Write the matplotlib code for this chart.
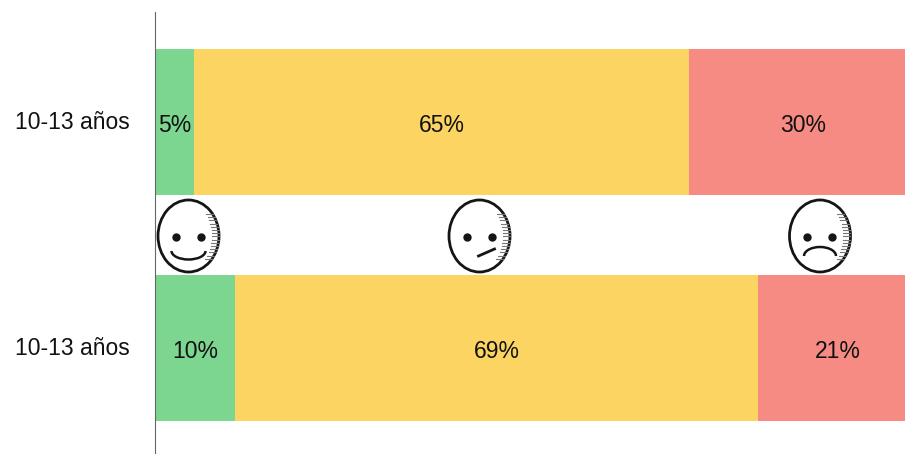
import matplotlib
matplotlib.use('Agg')
import matplotlib.pyplot as plt
from matplotlib.patches import Ellipse, Arc
import numpy as np

# groups, top to bottom
groups = ['10-13 años', '10-13 años']
happy = [5.1, 10.5]
neutral = [64.9, 68.5]
sad = [30, 21]
happy_labels = ['5%', '10%']
neutral_labels = ['65%', '69%']
sad_labels = ['30%', '21%']
colors = ['#7dd68f', '#fcd462', '#f58b82']

W, H = 905, 454
plt.rcParams['font.family'] = ['Liberation Sans', 'DejaVu Sans']


def face(ax, cx, cy, kind):
	# hand drawn smiley, pixel coords
	rx, ry = 30.5, 36
	ax.add_patch(Ellipse((cx, cy), 2 * rx, 2 * ry, fc='white', ec='#151515', lw=2, zorder=5))
	# shading along the right edge
	for dy in np.arange(-22, 26, 3.2):
		x1 = cx + rx * np.sqrt(1 - (dy / ry) ** 2)
		ax.plot([x1 - 7, x1], [cy + dy, cy + dy], color='#777777', lw=0.8, zorder=6)
	ax.plot([cx - 13, cx + 12], [cy + 1, cy + 1], ls='none', marker='o', ms=5, color='#151515', zorder=6)
	if kind == 'happy':
		ax.add_patch(Arc((cx, cy + 15), 34, 17, theta1=0, theta2=180, color='#151515', lw=1.8, zorder=6))
	elif kind == 'neutral':
		ax.plot([cx - 1, cx + 15], [cy + 20, cy + 13], color='#151515', lw=2, zorder=6)
	else:
		ax.add_patch(Arc((cx, cy + 20), 32, 18, theta1=180, theta2=360, color='#151515', lw=1.8, zorder=6))


def main():
	fig = plt.figure(figsize=(W / 100, H / 100), dpi=100)
	ax = fig.add_axes([155 / W, 0, 1 - 155 / W, 1])
	# y axis in pixels from the top, x axis in percent, bars run off the right edge
	ax.set_xlim(0, 98.3)
	ax.set_ylim(H, 0)
	ypos = [121.5, 347.5]
	left = np.zeros(2)
	for vals, labels, c in zip([happy, neutral, sad], [happy_labels, neutral_labels, sad_labels], colors):
		ax.barh(ypos, vals, height=146, left=left, color=c)
		for y, v, l, s in zip(ypos, vals, left, labels):
			ax.text(l + v / 2, y + 3.5, s, ha='center', va='center', fontsize=16.5, color='#111111', zorder=7)
		left = left + np.array(vals)
	for s in ['top', 'right', 'bottom']:
		ax.spines[s].set_visible(False)
	ax.spines['left'].set_color('#666666')
	ax.spines['left'].set_bounds(454, 12)
	ax.set_xticks([])
	ax.set_yticks([y + 1 for y in ypos])
	ax.set_yticklabels(groups, fontsize=16.5, color='#111111', va='center')
	ax.tick_params(axis='y', length=0, pad=18)

	over = fig.add_axes([0, 0, 1, 1])
	over.set_xlim(0, W)
	over.set_ylim(H, 0)
	over.axis('off')
	over.patch.set_alpha(0)
	face(over, 188.5, 236, 'happy')
	face(over, 479.5, 236, 'neutral')
	face(over, 820, 236, 'sad')
	fig.savefig('out.png', dpi=100)


if __name__ == '__main__':
	main()
